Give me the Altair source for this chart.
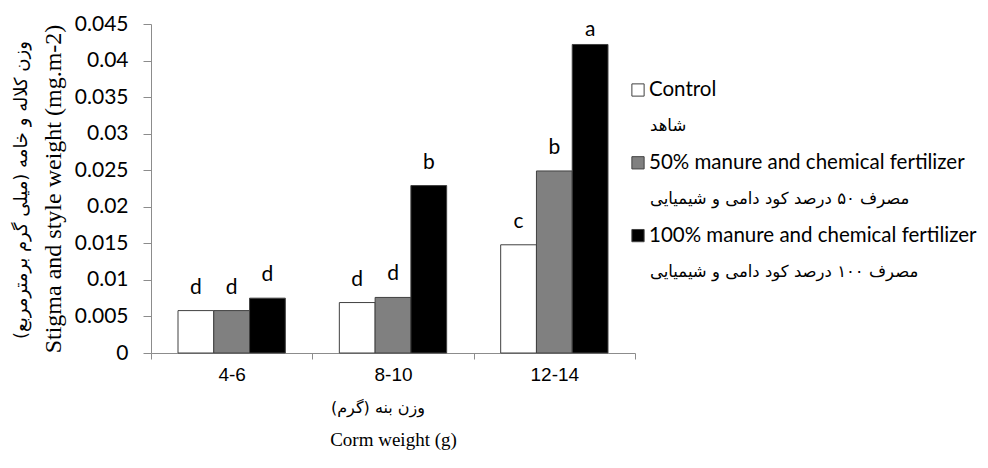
import altair as alt
import pandas as pd

# ---------------- data ----------------
sizes = ["4-6", "8-10", "12-14"]
treatments = ["Control",
              "50% manure and chemical fertilizer",
              "100% manure and chemical fertilizer"]
treatments_fa = ["شاهد",
                 "مصرف ۵۰ درصد کود دامی و شیمیایی",
                 "مصرف ۱۰۰ درصد کود دامی و شیمیایی"]
control = [0.0058, 0.0069, 0.0148]
manure50 = [0.0058, 0.0076, 0.0249]
manure100 = [0.0075, 0.0229, 0.0422]
letters_control = ["d", "d", "c"]
letters_50 = ["d", "d", "b"]
letters_100 = ["d", "b", "a"]
y_ticks = [0, 0.005, 0.01, 0.015, 0.02, 0.025, 0.03, 0.035, 0.04, 0.045]

y_title_en = "Stigma and style weight (mg.m-2)"
y_title_fa = "وزن کلاله و خامه (میلی گرم برمترمربع)"
x_title_en = "Corm weight (g)"
x_title_fa = "وزن بنه (گرم)"

# ---------------- tables ----------------
rows = []
for vals, lets, t in [(control, letters_control, treatments[0]),
                      (manure50, letters_50, treatments[1]),
                      (manure100, letters_100, treatments[2])]:
    for s, v, l in zip(sizes, vals, lets):
        rows.append({"size": s, "treatment": t, "value": v, "letter": l})
df = pd.DataFrame(rows)

leg_rows = []
for i, (en, fa) in enumerate(zip(treatments, treatments_fa)):
    leg_rows.append({"row": 2 * i, "label": en, "lang": "en", "treatment": en})
    leg_rows.append({"row": 2 * i + 1, "label": fa, "lang": "fa", "treatment": en})
leg = pd.DataFrame(leg_rows)

W, H = 484, 329
AXIS_GRAY = "#8c8c8c"

fill_scale = alt.Scale(domain=treatments, range=["#ffffff", "#808080", "#000000"])
y_scale = alt.Scale(domain=[0, 0.045], nice=False, zero=True)

x_axis = alt.Axis(title=x_title_en, labelAngle=0, tickBand="extent",
                  domainColor=AXIS_GRAY, tickColor=AXIS_GRAY, tickSize=6,
                  labelFont="Liberation Sans", labelFontSize=19,
                  labelColor="#000000", labelPadding=6,
                  titleFont="Liberation Serif", titleFontSize=19,
                  titleFontWeight="normal", titleColor="#000000",
                  titlePadding=46)
y_axis = alt.Axis(title=y_title_en, values=y_ticks, tickCount=10, grid=False,
                  labelExpr="format(datum.value, '~g')",
                  labelOverlap=False, labelFlush=False,
                  domainColor=AXIS_GRAY, tickColor=AXIS_GRAY, tickSize=8,
                  labelFont="Lato", labelFontSize=21, labelColor="#000000",
                  labelPadding=15,
                  titleFont="Liberation Serif", titleFontSize=24,
                  titleFontWeight="normal", titleColor="#000000",
                  titlePadding=9)

x_enc = alt.X("size:N", sort=sizes,
              scale=alt.Scale(paddingInner=0, paddingOuter=0), axis=x_axis)
xoff_enc = alt.XOffset("treatment:N", sort=treatments,
                       scale=alt.Scale(paddingInner=0, paddingOuter=0.755))

bars = alt.Chart(df).mark_bar(stroke="#404040", strokeWidth=1).encode(
    x=x_enc,
    xOffset=xoff_enc,
    y=alt.Y("value:Q", scale=y_scale, axis=y_axis),
    fill=alt.Fill("treatment:N", scale=fill_scale, legend=None),
)

# letters sit above their bars; the tallest one is kept inside the frame
letters = alt.Chart(df).transform_calculate(
    label_y="min(datum.value, 0.041)"
).mark_text(font="Lato", fontSize=21, baseline="alphabetic",
            dy=-17, color="#000000").encode(
    x=x_enc,
    xOffset=xoff_enc,
    y=alt.Y("label_y:Q", scale=y_scale, axis=y_axis),
    text="letter:N",
)

leg_y = alt.Y("row:Q", scale=alt.Scale(domain=[0, 5], range=[66, 248]), axis=None)
leg_sq = alt.Chart(leg[leg["lang"] == "en"]).mark_square(
    size=150, stroke="#404040", strokeWidth=1, opacity=1).encode(
    x=alt.value(W + 3), y=leg_y,
    fill=alt.Fill("treatment:N", scale=fill_scale, legend=None))
leg_en = alt.Chart(leg[leg["lang"] == "en"]).mark_text(
    align="left", baseline="middle", font="Lato", fontSize=20.5, color="#000000").encode(
    x=alt.value(W + 14), y=leg_y, text="label:N")
leg_fa = alt.Chart(leg[leg["lang"] == "fa"]).mark_text(
    align="left", baseline="middle", font="DejaVu Sans", fontSize=16.5,
    color="#000000").encode(
    x=alt.value(W + 15), y=leg_y, text="label:N")
legend = alt.layer(leg_sq, leg_en, leg_fa)

ytitle_fa = alt.Chart(pd.DataFrame({"t": [y_title_fa]})).mark_text(
    angle=270, font="DejaVu Sans", fontSize=18,
    baseline="middle", color="#000000").encode(
    x=alt.value(-129), y=alt.value(166), text="t:N")
xtitle_fa = alt.Chart(pd.DataFrame({"t": [x_title_fa]})).mark_text(
    font="DejaVu Sans", fontSize=16,
    baseline="middle", color="#000000").encode(
    x=alt.value(227), y=alt.value(384), text="t:N")

chart = alt.layer(
    alt.layer(bars, letters),
    legend,
    ytitle_fa,
    xtitle_fa,
).resolve_scale(y="independent").properties(
    width=W, height=H,
    autosize=alt.AutoSizeParams(type="none"),
    padding={"left": 143, "top": 16, "right": 345, "bottom": 107},
    background="white",
).configure_view(stroke=None)

chart.save("out.html", embed_options={"renderer": "svg", "actions": False})
